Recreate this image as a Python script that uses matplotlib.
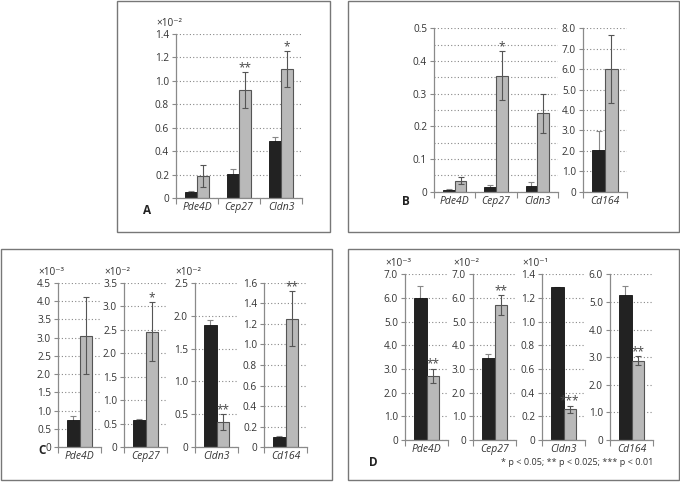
import numpy as np
import matplotlib
matplotlib.use("Agg")
import matplotlib.pyplot as plt
from matplotlib.patches import Rectangle
from matplotlib.ticker import FuncFormatter

plt.rcParams['font.family'] = ['Open Sans', 'DejaVu Sans']

# panel A
a_genes = ['Pde4D', 'Cep27', 'Cldn3']
a_black = [0.05, 0.21, 0.49]
a_black_err = [0.012, 0.035, 0.03]
a_gray = [0.19, 0.92, 1.10]
a_gray_err = [0.095, 0.15, 0.15]
a_sig = ['', '**', '*']

# panel B
b_genes = ['Pde4D', 'Cep27', 'Cldn3']
b_black = [0.005, 0.015, 0.018]
b_black_err = [0.002, 0.007, 0.011]
b_gray = [0.034, 0.355, 0.24]
b_gray_err = [0.01, 0.075, 0.06]
b_sig = ['', '*', '']
b2_black = [2.05]
b2_black_err = [0.9]
b2_gray = [6.0]
b2_gray_err = [1.65]

# panel C (one gene per axis)
c_genes = ['Pde4D', 'Cep27', 'Cldn3', 'Cd164']
c_black = [0.75, 0.57, 1.85, 0.10]
c_black_err = [0.1, 0.04, 0.09, 0.006]
c_gray = [3.05, 2.46, 0.39, 1.25]
c_gray_err = [1.05, 0.62, 0.12, 0.27]
c_sig = ['', '*', '**', '**']
c_ymax = [4.5, 3.5, 2.5, 1.6]
c_step = [0.5, 0.5, 0.5, 0.2]
c_expo = ['×10⁻³', '×10⁻²', '×10⁻²', None]

# panel D
d_genes = ['Pde4D', 'Cep27', 'Cldn3', 'Cd164']
d_black = [6.0, 3.45, 1.29, 5.25]
d_black_err = [0.5, 0.2, 0.006, 0.32]
d_gray = [2.72, 5.7, 0.26, 2.87]
d_gray_err = [0.3, 0.42, 0.03, 0.17]
d_sig = ['**', '**', '***', '**']
d_ymax = [7.0, 7.0, 1.4, 6.0]
d_step = [1.0, 1.0, 0.2, 1.0]
d_expo = ['×10⁻³', '×10⁻²', '×10⁻¹', None]

W, H = 680, 482
fig = plt.figure(figsize=(W / 100, H / 100), dpi=100)

TXT = '#333333'
SPINE = '#8a8a8a'
BW = 0.286


def add_ax(left, right, top, zero):
    return fig.add_axes([left / W, 1 - zero / H, (right - left) / W, (zero - top) / H])


def box(x0, y0, x1, y1):
    fig.add_artist(Rectangle((x0 / W, 1 - y1 / H), (x1 - x0) / W, (y1 - y0) / H,
                             transform=fig.transFigure, fill=False, ec='#777777', lw=1))


def fmt(v, p):
    return '0' if abs(v) < 1e-9 else f'{v:.1f}'


def draw(ax, genes, black, black_err, gray, gray_err, sig, ymax, step, expo=None, minor=None):
    n = len(genes)
    x = np.arange(n) + 0.5
    ax.bar(x - BW / 2, black, BW, color='#222222', edgecolor='#111111', lw=0.6, zorder=2)
    ax.errorbar(x - BW / 2, black, yerr=black_err, fmt='none', ecolor='#888888',
                elinewidth=0.8, capsize=2, capthick=0.8, zorder=1)
    ax.bar(x + BW / 2, gray, BW, color='#b9b9b9', edgecolor='#555555', lw=0.8, zorder=2)
    ax.errorbar(x + BW / 2, gray, yerr=gray_err, fmt='none', ecolor='#555555',
                elinewidth=0.8, capsize=2, capthick=0.8, zorder=3)
    for xi, g, e, s in zip(x, gray, gray_err, sig):
        if s:
            ax.annotate(s, (xi + BW / 2, g + e), xytext=(0, -1.5), textcoords='offset points',
                        ha='center', va='bottom', fontsize=8.5, color='#444444')
    ax.set_xlim(0, n)
    ax.set_ylim(0, ymax)
    ax.set_xticks(x)
    ax.set_xticklabels(genes, style='italic', fontsize=7.5, color=TXT)
    ax.set_xticks(np.arange(n + 1), minor=True)
    ax.tick_params(axis='x', which='major', length=0, pad=3)
    ax.tick_params(axis='x', which='minor', length=4, width=0.8, color=SPINE)
    ax.set_yticks(np.arange(0, ymax + step / 2, step))
    ax.yaxis.set_major_formatter(FuncFormatter(fmt))
    ax.tick_params(axis='y', length=3, width=0.8, color=SPINE, labelsize=7.2,
                   labelcolor=TXT, pad=2)
    if minor is not None:
        ax.set_yticks(minor, minor=True)
        ax.tick_params(axis='y', which='minor', length=0)
    ax.yaxis.grid(True, which='both', linestyle=(0, (1, 2)), color='#888888', lw=0.8)
    ax.set_axisbelow(True)
    for side in ['top', 'right']:
        ax.spines[side].set_visible(False)
    for side in ['left', 'bottom']:
        ax.spines[side].set_color(SPINE)
        ax.spines[side].set_linewidth(0.9)
    ax.patch.set_alpha(0)
    if expo:
        ax.annotate(expo, (0, 1), xycoords='axes fraction', xytext=(-14, 7.5),
                    textcoords='offset points', ha='left', va='center',
                    fontsize=7.2, color=TXT)


# boxes
box(117, 1, 330, 232)
box(348, 1, 679, 232)
box(1, 249, 332, 480)
box(348, 249, 679, 480)

# A
ax = add_ax(176, 302, 33.7, 198.3)
draw(ax, a_genes, a_black, a_black_err, a_gray, a_gray_err, a_sig, 1.4, 0.2, expo='×10⁻²')

# B
ax = add_ax(434, 558, 28.3, 191.7)
draw(ax, b_genes, b_black, b_black_err, b_gray, b_gray_err, b_sig, 0.5, 0.1,
     minor=np.arange(0.05, 0.5, 0.1))
ax = add_ax(583, 627, 28.3, 191.7)
draw(ax, ['Cd164'], b2_black, b2_black_err, b2_gray, b2_gray_err, [''], 8.0, 1.0)

# C
c_left = [58, 124, 195, 264]
for i in range(4):
    ax = add_ax(c_left[i], c_left[i] + 43, 282.7, 447.3)
    draw(ax, [c_genes[i]], [c_black[i]], [c_black_err[i]], [c_gray[i]], [c_gray_err[i]],
         [c_sig[i]], c_ymax[i], c_step[i], expo=c_expo[i])

# D
d_left = [405, 473, 542, 610]
for i in range(4):
    ax = add_ax(d_left[i], d_left[i] + 43, 274.3, 440)
    draw(ax, [d_genes[i]], [d_black[i]], [d_black_err[i]], [d_gray[i]], [d_gray_err[i]],
         [d_sig[i]], d_ymax[i], d_step[i], expo=d_expo[i])

# panel letters and footnote
for lab, x, y in [('A', 147, 211), ('B', 406, 201), ('C', 42, 451), ('D', 373, 462)]:
    fig.text(x / W, 1 - y / H, lab, fontweight='bold', fontsize=8.5, ha='center', va='center',
             color='#222222')
fig.text(653 / W, 1 - 462.5 / H, '* p < 0.05; ** p < 0.025; *** p < 0.01', ha='right',
         va='center', fontsize=6.5, color=TXT)

fig.savefig('out.png', dpi=100)
